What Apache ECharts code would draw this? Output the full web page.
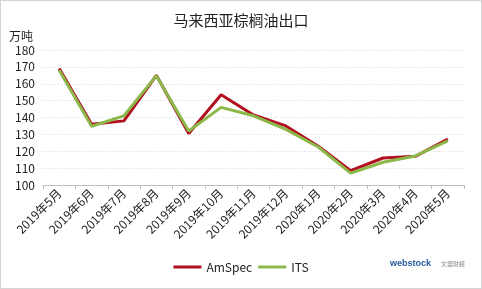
<!DOCTYPE html>
<html><head><meta charset="utf-8">
<script src="https://cdn.jsdelivr.net/npm/echarts@6/dist/echarts.min.js"></script>
<style>html,body{margin:0;padding:0;background:#fff;}#c{width:482px;height:289px;box-sizing:border-box;border:1px solid #d4d4d4;}</style>
</head><body><div id="c"></div>
<script>
var categories = ['2019年5月','2019年6月','2019年7月','2019年8月','2019年9月','2019年10月','2019年11月','2019年12月','2020年1月','2020年2月','2020年3月','2020年4月','2020年5月'];
var amspec = [169, 136, 138, 165, 130.5, 153.5, 141.5, 135, 123, 108.5, 116, 117, 127.2];
var its = [168, 134.8, 141, 164.8, 132, 146, 141, 133, 122.5, 107, 113.5, 117.2, 126.2];
var yTicks = [100, 110, 120, 130, 140, 150, 160, 170, 180];
var chart = echarts.init(document.getElementById('c'));
var font = '"Noto Sans CJK SC", "Liberation Sans", sans-serif';
chart.setOption({
  animation: false,
  backgroundColor: '#fff',
  textStyle: {fontFamily: font},
  title: {text: '马来西亚棕榈油出口', left: 'center', top: 7, textStyle: {fontSize: 15, fontWeight: 'normal', color: '#222', fontFamily: font}},
  grid: {left: 42, right: 17, top: 49, bottom: 103},
  legend: {bottom: 10, left: 'center', itemWidth: 28, itemHeight: 3, icon: 'rect', itemGap: 6,
    textStyle: {fontSize: 12, color: '#222', fontFamily: font},
    data: ['AmSpec', 'ITS']},
  graphic: [
    {type: 'text', left: 8, top: 29, style: {text: '万吨', font: '12px "Noto Sans CJK SC"', fill: '#222'}},
    {type: 'text', right: 50, bottom: 20, style: {text: 'webstock', font: 'bold 9px "Liberation Sans"', fill: '#2a5aa0'}},
    {type: 'text', right: 16, bottom: 21, style: {text: '文華財經', font: '6px "Noto Sans CJK TC"', fill: '#888'}}
  ],
  xAxis: {type: 'category', data: categories, boundaryGap: true,
    axisLine: {lineStyle: {color: '#bfbfbf'}},
    axisTick: {show: true, alignWithLabel: false, length: 4, lineStyle: {color: '#bfbfbf'}},
    axisLabel: {rotate: 45, fontSize: 12, color: '#222', margin: 6, interval: 0, fontFamily: font}},
  yAxis: {type: 'value', min: yTicks[0], max: yTicks[yTicks.length-1], interval: 10,
    axisLine: {show: false}, axisTick: {show: false},
    axisLabel: {fontSize: 12, color: '#222', margin: 8, fontFamily: font},
    splitLine: {lineStyle: {color: '#d9d9d9', type: [1, 2]}}},
  series: [
    {name: 'AmSpec', type: 'line', data: amspec, symbol: 'none', color: '#b01020', lineStyle: {width: 3, color: '#b01020'}},
    {name: 'ITS', type: 'line', data: its, symbol: 'none', color: '#8cb84a', lineStyle: {width: 3, color: '#8cb84a'}}
  ]
});
</script></body></html>
